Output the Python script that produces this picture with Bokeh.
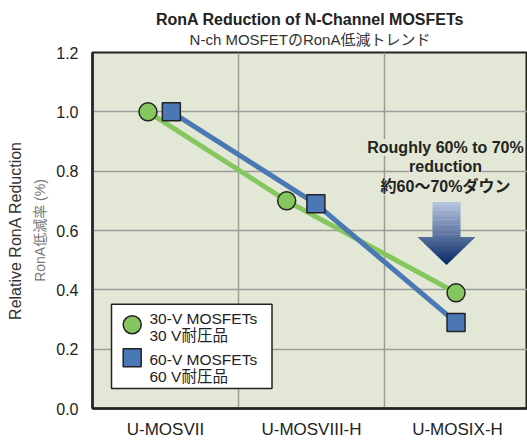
import numpy as np
from bokeh.plotting import figure
from bokeh.models import (Range1d, FixedTicker, Label, Title, PrintfTickFormatter)
from bokeh.embed import file_html
from bokeh.resources import INLINE

# ---------------- data ----------------
categories = ["U-MOSVII", "U-MOSVIII-H", "U-MOSIX-H"]
cat_centers = [0.5, 1.5, 2.5]
v30 = [1.00, 0.70, 0.39]
v60 = [1.00, 0.69, 0.29]
x30 = [0.38, 1.33, 2.49]   # horizontal placement inside each category
x60 = [0.54, 1.53, 2.49]
y_ticks = [0.0, 0.2, 0.4, 0.6, 0.8, 1.0, 1.2]
legend_labels = [["30-V MOSFETs", "30 V耐圧品"], ["60-V MOSFETs", "60 V耐圧品"]]

# ---------------- style ----------------
FONT = "Liberation Sans, Arial, Noto Sans CJK JP, sans-serif"
BG = "#e2e8d5"
GREEN = "#86c65e"
BLUE = "#4a78b5"
DARK = "#222222"

W, H = 527, 441
FL, FB = 92, 409          # frame left / bottom in canvas pixels
CAT_PX, UNIT_PX = 146, 297.5

p = figure(width=W, height=H, output_backend="svg", toolbar_location=None,
           x_range=Range1d(0, (W - FL) / CAT_PX), y_range=Range1d(0, 1.2),
           min_border_left=FL, min_border_right=0, min_border_top=52,
           min_border_bottom=H - FB, background_fill_color=BG,
           border_fill_color="white")
p.outline_line_color = DARK
p.outline_line_width = 2

# axes
p.xaxis.ticker = FixedTicker(ticks=cat_centers)
p.xaxis.major_label_overrides = {c: l for c, l in zip(cat_centers, categories)}
p.yaxis.ticker = FixedTicker(ticks=y_ticks)
p.yaxis.formatter = PrintfTickFormatter(format="%.1f")
for ax in (p.xaxis, p.yaxis):
    ax.axis_line_color = DARK
    ax.axis_line_width = 2.5
    ax.major_tick_line_color = None
    ax.minor_tick_line_color = None
    ax.major_label_text_font = FONT
    ax.major_label_text_color = DARK
p.xaxis.major_label_text_font_size = "17px"
p.yaxis.major_label_text_font_size = "16px"
p.xaxis.major_label_standoff = 5
p.yaxis.major_label_standoff = 8

# grid
p.xgrid.ticker = FixedTicker(ticks=[1, 2])
p.ygrid.ticker = FixedTicker(ticks=[0.2, 0.4, 0.6, 0.8, 1.0])
for g in (p.xgrid, p.ygrid):
    g.grid_line_color = "#9c9c9c"
    g.grid_line_width = 1.5

# ---------------- titles (above) and axis titles (left) ----------------
p.add_layout(Title(text="N-ch MOSFETのRonA低減トレンド", align="center",
                   text_font=FONT, text_font_size="15px", text_font_style="normal",
                   text_color="#333333", standoff=5, vertical_align="top"), "above")
p.add_layout(Title(text="RonA Reduction of N-Channel MOSFETs", align="center",
                   text_font=FONT, text_font_size="16px", text_font_style="bold",
                   text_color=DARK, standoff=2), "above")
p.add_layout(Title(text="RonA低減率 (%)", align="center", text_font=FONT,
                   text_font_size="14px", text_font_style="normal",
                   text_color="#777777", standoff=12, offset=12), "left")
p.add_layout(Title(text="Relative RonA Reduction", align="center", text_font=FONT,
                   text_font_size="16px", text_font_style="normal",
                   text_color="#333333", standoff=0), "left")


def px_x(px):
    return (px - FL) / CAT_PX


def px_y(py):
    return (FB - py) / UNIT_PX


def mix(c1, c2, t):
    a = [int(c1[i:i + 2], 16) for i in (1, 3, 5)]
    b = [int(c2[i:i + 2], 16) for i in (1, 3, 5)]
    return "#%02x%02x%02x" % tuple(int(round(a[k] + (b[k] - a[k]) * t)) for k in range(3))


# ---------------- arrow decoration (gradient) ----------------
top_c, bot_c = "#b8c6e0", "#062865"
s_top, s_bot, h_bot = 202, 237, 265
sx0, sx1 = 432, 460
hx0, hx1, tipx = 417, 475, 446
total = h_bot - s_top
n = 14
for i in range(n):
    y0 = s_top + (s_bot - s_top) * i / n
    y1 = s_top + (s_bot - s_top) * (i + 1) / n
    c = mix(top_c, bot_c, ((y0 + y1) / 2 - s_top) / total)
    p.quad(left=px_x(sx0), right=px_x(sx1), top=px_y(y0), bottom=px_y(y1 + 0.3),
           fill_color=c, line_color=None)
for i in range(n):
    f0, f1 = i / n, min((i + 1) / n + 0.02, 1)
    y0 = s_bot + (h_bot - s_bot) * f0
    y1 = s_bot + (h_bot - s_bot) * f1
    w0, w1 = 1 - f0, 1 - f1
    xs = [tipx + (hx0 - tipx) * w0, tipx + (hx1 - tipx) * w0,
          tipx + (hx1 - tipx) * w1, tipx + (hx0 - tipx) * w1]
    ys = [y0, y0, y1, y1]
    c = mix(top_c, bot_c, ((y0 + y1) / 2 - s_top) / total)
    p.patch([px_x(v) for v in xs], [px_y(v) for v in ys], fill_color=c, line_color=None)

# ---------------- series ----------------
p.line(x30, v30, line_color=GREEN, line_width=5)
p.line(x60, v60, line_color=BLUE, line_width=5)
p.scatter(x30, v30, marker="circle", size=18, fill_color=GREEN,
          line_color=DARK, line_width=1.5)
p.scatter(x60, v60, marker="square", size=18, fill_color=BLUE,
          line_color=DARK, line_width=1.5)

# ---------------- legend (drawn by hand inside the frame) ----------------
p.quad(left=px_x(111), right=px_x(271.5), top=px_y(304.5), bottom=px_y(389),
       fill_color="white", line_color=DARK, line_width=1.5)
p.scatter([px_x(131.7)], [px_y(325)], marker="circle", size=18,
          fill_color=GREEN, line_color=DARK, line_width=1.5)
p.scatter([px_x(131.7)], [px_y(358)], marker="square", size=18,
          fill_color=BLUE, line_color=DARK, line_width=1.5)


# ---------------- texts inside the frame (screen units relative to frame) ----
def lab(text, px, py, size, bold=False, color=DARK, bg=None, align="center"):
    p.add_layout(Label(x=px - FL, y=FB - py, x_units="screen", y_units="screen",
                       text=text, text_font=FONT, text_font_size=size,
                       text_font_style="bold" if bold else "normal",
                       text_color=color, text_align=align, text_baseline="middle",
                       background_fill_color=bg))


for (l1, l2), yy in zip(legend_labels, [319, 360]):
    lab(l1, 149, yy, "15.5px", align="left")
    lab(l2, 149, yy + 17, "15.5px", align="left")

lab("Roughly 60% to 70%", 445, 148, "16px", bold=True, bg=BG)
lab("reduction", 445, 167, "16px", bold=True, bg=BG)
lab("約60～70%ダウン", 445, 187, "16px", bold=True, bg=BG)

open("out.html", "w").write(file_html(p, INLINE))
